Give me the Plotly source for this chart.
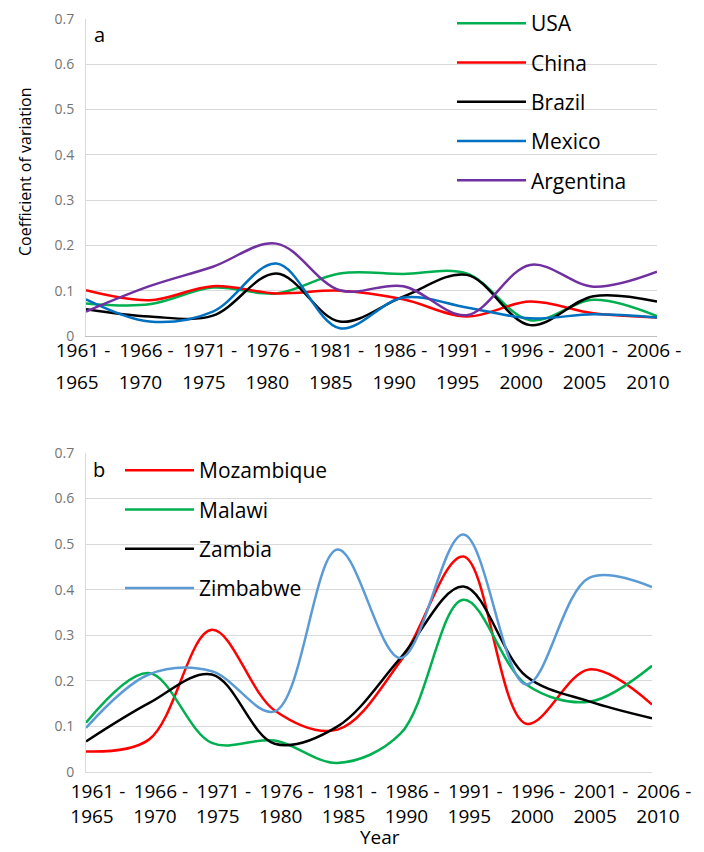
import plotly.graph_objects as go

periods = ["1961 - 1965", "1966 - 1970", "1971 - 1975", "1976 - 1980", "1981 - 1985",
           "1986 - 1990", "1991 - 1995", "1996 - 2000", "2001 - 2005", "2006 - 2010"]

# Panel a
usa = [0.072, 0.070, 0.107, 0.094, 0.138, 0.137, 0.138, 0.035, 0.080, 0.044]
china = [0.101, 0.079, 0.110, 0.094, 0.100, 0.081, 0.043, 0.076, 0.050, 0.041]
brazil = [0.059, 0.043, 0.045, 0.138, 0.032, 0.087, 0.135, 0.024, 0.088, 0.076]
mexico = [0.081, 0.032, 0.054, 0.160, 0.017, 0.085, 0.063, 0.039, 0.048, 0.041]
argentina = [0.054, 0.110, 0.153, 0.204, 0.101, 0.110, 0.046, 0.157, 0.109, 0.142]

# Panel b
mozambique = [0.045, 0.071, 0.312, 0.135, 0.093, 0.243, 0.473, 0.106, 0.225, 0.148]
malawi = [0.108, 0.217, 0.064, 0.069, 0.020, 0.084, 0.378, 0.192, 0.154, 0.233]
zambia = [0.067, 0.151, 0.214, 0.062, 0.100, 0.250, 0.407, 0.210, 0.155, 0.118]
zimbabwe = [0.097, 0.214, 0.221, 0.133, 0.488, 0.250, 0.521, 0.192, 0.426, 0.406]

y_ticks = [0, 0.1, 0.2, 0.3, 0.4, 0.5, 0.6, 0.7]
y_ticktext = ["0", "0.1", "0.2", "0.3", "0.4", "0.5", "0.6", "0.7"]

W, H = 704, 852
FONT = "Open Sans"
xi = list(range(len(periods)))
line1 = [p.split(" - ")[0] + " -" for p in periods]
line2 = [p.split(" - ")[1] for p in periods]

fig = go.Figure()

series_a = [("USA", usa, "#00b050"), ("China", china, "#ff0000"), ("Brazil", brazil, "#000000"),
            ("Mexico", mexico, "#0070c0"), ("Argentina", argentina, "#7030a0")]
series_b = [("Mozambique", mozambique, "#ff0000"), ("Malawi", malawi, "#00b050"),
            ("Zambia", zambia, "#000000"), ("Zimbabwe", zimbabwe, "#5b9bd5")]

for name, vals, col in series_a:
    fig.add_trace(go.Scatter(x=xi, y=vals, name=name, mode="lines", xaxis="x", yaxis="y",
                             line=dict(color=col, width=2.5, shape="spline", smoothing=1.0),
                             legend="legend", legendgroup=name))
for name, vals, col in series_b:
    fig.add_trace(go.Scatter(x=xi, y=vals, name=name, mode="lines", xaxis="x2", yaxis="y2",
                             line=dict(color=col, width=2.5, shape="spline", smoothing=1.0),
                             legend="legend2", legendgroup=name))

# invisible carriers so the second-line tick axes are drawn
fig.add_trace(go.Scatter(x=xi, y=[None] * len(xi), xaxis="x3", yaxis="y", mode="lines",
                         showlegend=False, hoverinfo="skip"))
fig.add_trace(go.Scatter(x=xi, y=[None] * len(xi), xaxis="x4", yaxis="y2", mode="lines",
                         showlegend=False, hoverinfo="skip"))


def px_x(p):
    return p / W


def px_y(p):
    return 1 - p / H


tickfont_x = dict(family=FONT, size=19, color="#000000")
tickfont_y = dict(family=FONT, size=14, color="#747474")

common_x = dict(tickmode="array", tickvals=xi, range=[0, len(periods) - 1], showgrid=False,
                zeroline=False, tickangle=0, ticks="", ticklen=0, automargin=False,
                fixedrange=True)
common_y = dict(tickmode="array", tickvals=y_ticks, ticktext=y_ticktext, range=[0, 0.7],
                showgrid=True, gridcolor="#d9d9d9", gridwidth=1, zeroline=False, ticks="",
                tickfont=tickfont_y, automargin=False, showline=True, linecolor="#d9d9d9",
                ticklabelstandoff=8, fixedrange=True)

fig.update_layout(
    width=W, height=H, margin=dict(l=0, r=0, t=0, b=0),
    paper_bgcolor="white", plot_bgcolor="white",
    xaxis=dict(domain=[px_x(86), px_x(657)], anchor="y", ticktext=line1, tickfont=tickfont_x,
               showline=True, linecolor="#bfbfbf", linewidth=1, ticklabelshift=-3,
               ticklabelstandoff=-3, **common_x),
    xaxis3=dict(domain=[px_x(86), px_x(657)], anchor="y", overlaying="x", ticktext=line2,
                tickfont=tickfont_x, showline=False, ticklabelshift=-9, ticklabelstandoff=33,
                **common_x),
    yaxis=dict(domain=[px_y(336), px_y(19)], anchor="x", **common_y),
    xaxis2=dict(domain=[px_x(86), px_x(652)], anchor="y2", ticktext=line1, tickfont=tickfont_x,
                showline=True, linecolor="#d9d9d9", linewidth=1, ticklabelshift=12,
                ticklabelstandoff=2, **common_x),
    xaxis4=dict(domain=[px_x(86), px_x(652)], anchor="y2", overlaying="x2", ticktext=line2,
                tickfont=tickfont_x, showline=False, ticklabelshift=6, ticklabelstandoff=31,
                **common_x),
    yaxis2=dict(domain=[px_y(772), px_y(453)], anchor="x2", **common_y),
    legend=dict(x=px_x(452), y=px_y(3), xanchor="left", yanchor="top",
                font=dict(family=FONT, size=21, color="#000000"), bgcolor="rgba(0,0,0,0)",
                tracegroupgap=9, itemwidth=69),
    legend2=dict(x=px_x(120), y=px_y(450), xanchor="left", yanchor="top",
                 font=dict(family=FONT, size=21, color="#000000"), bgcolor="rgba(0,0,0,0)",
                 tracegroupgap=9, itemwidth=69),
    showlegend=True,
)

fig.add_annotation(text="a", x=px_x(99), y=px_y(34), xref="paper", yref="paper",
                   xanchor="center", yanchor="middle", showarrow=False,
                   font=dict(family=FONT, size=20, color="#000000"))
fig.add_annotation(text="b", x=px_x(99), y=px_y(469), xref="paper", yref="paper",
                   xanchor="center", yanchor="middle", showarrow=False,
                   font=dict(family=FONT, size=20, color="#000000"))
fig.add_annotation(text="Coefficient of variation", x=px_x(25), y=px_y(172), xref="paper",
                   yref="paper", xanchor="center", yanchor="middle", showarrow=False,
                   textangle=-90, font=dict(family=FONT, size=16, color="#000000"))
fig.add_annotation(text="Year", x=px_x(380), y=0, xref="paper", yref="paper",
                   xanchor="center", yanchor="bottom", showarrow=False,
                   font=dict(family=FONT, size=19, color="#000000"))

fig.write_html("out.html", config={"displayModeBar": False},
               post_script="document.body.style.margin='0';")
